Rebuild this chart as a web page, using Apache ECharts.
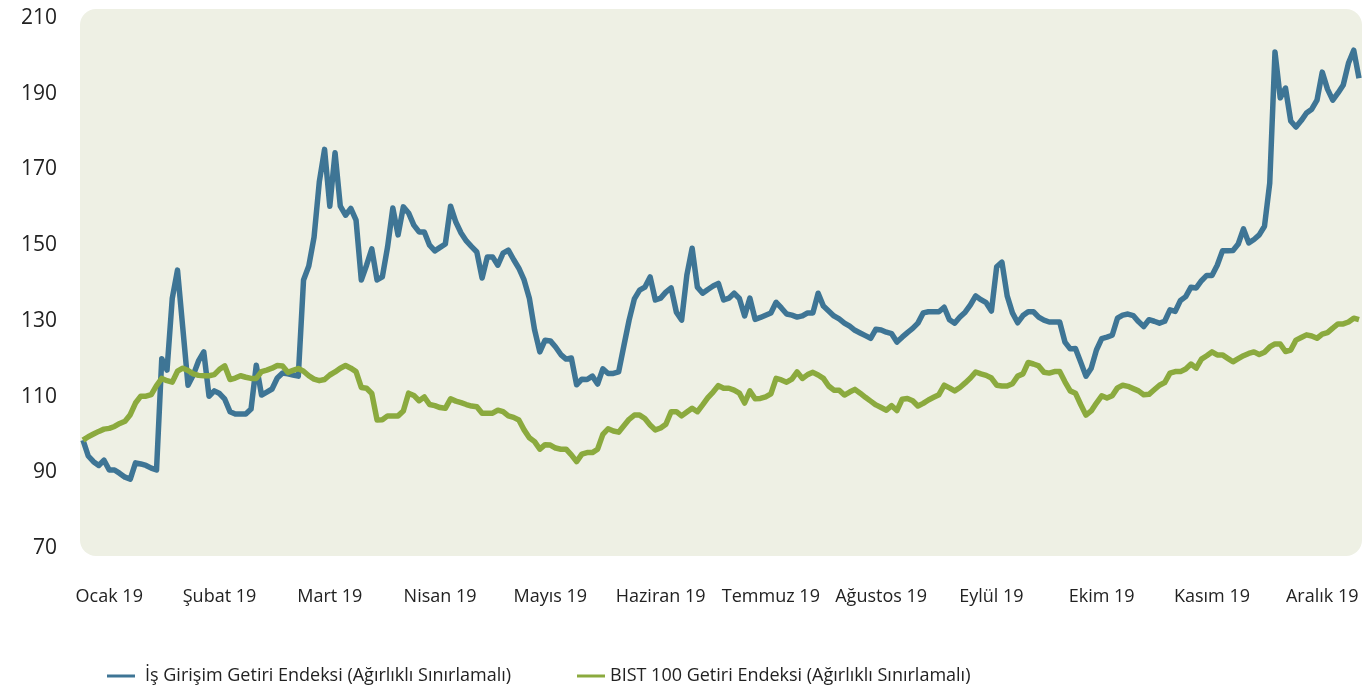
<!DOCTYPE html>
<html>
<head>
<meta charset="utf-8">
<script src="https://cdn.jsdelivr.net/npm/echarts@6/dist/echarts.min.js"></script>
<style>
  html, body { margin: 0; padding: 0; background: #fff; }
  #chart { width: 1362px; height: 689px; }
</style>
</head>
<body>
<div id="chart"></div>
<script>
  // ay etiketleri (her 21 islem gununde bir)
  var monthLabels = ['Ocak 19', 'Şubat 19', 'Mart 19', 'Nisan 19', 'Mayıs 19', 'Haziran 19',
    'Temmuz 19', 'Ağustos 19', 'Eylül 19', 'Ekim 19', 'Kasım 19', 'Aralık 19'];
  var yTicks = [70, 90, 110, 130, 150, 170, 190, 210];

  var isGirisim = [
    98.5, 94.3, 92.8, 91.8, 93.2, 90.6, 90.6, 89.7, 88.7, 88.2,
    92.5, 92.2, 91.8, 91.1, 90.6, 120.0, 117.0, 136.0, 143.4, 128.2,
    113.0, 115.7, 119.4, 121.8, 110.1, 111.5, 110.8, 109.3, 106.0, 105.4,
    105.4, 105.4, 106.7, 118.3, 110.4, 111.2, 112.0, 114.9, 116.2, 116.0,
    115.7, 115.4, 140.8, 144.5, 152.1, 166.7, 175.3, 160.3, 174.4, 160.3,
    157.9, 159.7, 156.6, 140.8, 144.7, 149.0, 140.8, 141.6, 149.5, 159.8,
    152.7, 160.1, 158.5, 155.3, 153.5, 153.5, 150.0, 148.5, 149.4, 150.3,
    160.3, 156.1, 153.2, 151.1, 149.6, 148.2, 141.3, 146.9, 146.9, 144.7,
    147.9, 148.7, 146.2, 143.9, 140.8, 136.0, 127.6, 121.8, 124.9, 124.7,
    123.1, 121.1, 119.9, 120.2, 113.1, 114.6, 114.5, 115.4, 113.3, 117.3,
    116.1, 116.1, 116.5, 123.4, 130.2, 135.8, 138.1, 138.9, 141.6, 135.5,
    136.0, 137.6, 138.7, 132.3, 130.2, 142.1, 149.2, 138.9, 137.3, 138.3,
    139.2, 139.9, 135.5, 136.0, 137.3, 135.9, 131.3, 136.0, 130.4, 130.9,
    131.5, 132.1, 134.9, 133.4, 131.8, 131.5, 131.0, 131.3, 132.1, 132.1,
    137.3, 133.9, 132.6, 131.3, 130.5, 129.4, 128.6, 127.5, 126.8, 126.1,
    125.4, 127.8, 127.6, 127.0, 126.6, 124.4, 125.7, 126.9, 128.0, 129.4,
    132.1, 132.4, 132.4, 132.4, 133.6, 130.3, 129.4, 131.0, 132.3, 134.2,
    136.6, 135.6, 134.8, 132.6, 144.3, 145.5, 136.6, 132.1, 129.5, 131.4,
    132.4, 132.4, 131.0, 130.2, 129.7, 129.7, 129.7, 124.4, 122.6, 122.7,
    119.1, 115.4, 117.5, 122.3, 125.3, 125.7, 126.2, 130.7, 131.5, 131.8,
    131.4, 129.8, 128.5, 130.3, 129.9, 129.4, 129.9, 132.9, 132.5, 135.4,
    136.4, 138.9, 138.7, 140.6, 142.0, 142.0, 144.7, 148.5, 148.5, 148.6,
    150.3, 154.3, 150.6, 151.5, 152.7, 155.0, 166.4, 201.0, 188.9, 191.5,
    182.8, 181.2, 182.9, 184.9, 185.9, 188.3, 195.7, 191.2, 188.3, 190.2,
    192.3, 198.1, 201.5, 194.1
  ];

  var bist100 = [
    98.5, 99.4, 100.1, 100.8, 101.4, 101.6, 102.1, 102.9, 103.5, 105.2,
    108.3, 110.1, 110.1, 110.5, 112.9, 114.8, 114.2, 113.8, 116.7, 117.5,
    116.9, 116.0, 115.6, 115.5, 115.5, 115.8, 117.2, 118.1, 114.5, 114.9,
    115.5, 115.1, 114.8, 114.8, 116.6, 117.0, 117.5, 118.2, 118.1, 116.4,
    116.9, 117.4, 116.7, 115.5, 114.6, 114.2, 114.5, 115.7, 116.5, 117.5,
    118.2, 117.5, 116.6, 112.4, 112.2, 110.8, 103.8, 103.9, 104.9, 104.9,
    104.9, 106.2, 110.9, 110.3, 108.9, 109.9, 107.9, 107.6, 107.1, 106.9,
    109.4, 108.8, 108.4, 107.9, 107.5, 107.3, 105.6, 105.6, 105.6, 106.4,
    106.0, 104.9, 104.5, 103.8, 101.2, 99.1, 98.1, 96.1, 97.3, 97.2,
    96.4, 96.1, 96.1, 94.6, 92.8, 94.8, 95.2, 95.2, 96.1, 100.0,
    101.5, 100.9, 100.6, 102.3, 104.0, 105.1, 105.1, 104.2, 102.5, 101.2,
    101.7, 102.7, 106.0, 106.0, 104.9, 105.9, 106.9, 106.0, 107.8, 109.7,
    111.2, 112.9, 112.2, 112.2, 111.7, 110.9, 108.3, 111.5, 109.4, 109.5,
    109.9, 110.7, 114.8, 114.4, 113.8, 114.6, 116.5, 114.8, 115.8, 116.4,
    115.7, 114.8, 112.8, 111.7, 111.7, 110.4, 111.2, 111.9, 110.9, 109.8,
    108.8, 107.8, 107.1, 106.4, 107.6, 106.3, 109.3, 109.5, 108.9, 107.5,
    108.2, 109.1, 109.8, 110.5, 113.0, 112.3, 111.5, 112.4, 113.6, 114.9,
    116.5, 116.0, 115.6, 114.9, 113.0, 112.8, 112.8, 113.4, 115.4, 116.0,
    119.0, 118.6, 118.1, 116.4, 116.2, 116.6, 116.6, 113.9, 111.5, 110.9,
    107.9, 105.1, 106.2, 108.3, 110.2, 109.6, 110.2, 112.3, 113.0, 112.7,
    112.1, 111.5, 110.5, 110.6, 111.8, 113.0, 113.7, 116.2, 116.6, 116.6,
    117.3, 118.6, 117.5, 119.9, 120.8, 121.8, 121.0, 121.0, 120.1, 119.2,
    120.0, 120.8, 121.4, 121.8, 121.1, 121.7, 123.1, 123.9, 123.9, 121.9,
    122.3, 124.9, 125.6, 126.3, 126.0, 125.4, 126.5, 126.9, 128.1, 129.2,
    129.2, 129.7, 130.7, 130.3
  ];

  var nameIs = 'İş Girişim Getiri Endeksi (Ağırlıklı Sınırlamalı)';
  var nameBist = 'BIST 100 Getiri Endeksi (Ağırlıklı Sınırlamalı)';

  // kategori ekseni: ilk etiket 5. gunde, sonra her 21 gunde bir
  var labelStart = 5, labelStep = 21;
  var categories = isGirisim.map(function (v, i) {
    var k = i - labelStart;
    return (k >= 0 && k % labelStep === 0) ? monthLabels[k / labelStep] || '' : '';
  });

  var font = 'Open Sans';
  var legendText = { fontFamily: font, fontSize: 18, color: '#222', padding: [0, 0, 0, 5] };
  var chart = echarts.init(document.getElementById('chart'));
  chart.setOption({
    animation: false,
    textStyle: { fontFamily: font, color: '#222' },
    graphic: [{
      type: 'rect', left: 80, top: 9, z: -10, silent: true,
      shape: { width: 1282, height: 547, r: 16 },
      style: { fill: '#EEF0E4' }
    }],
    grid: { left: 83, right: 2, top: 18, bottom: 141 },
    legend: [
      { data: [nameIs], left: 102, top: 662, icon: 'rect', itemWidth: 28, itemHeight: 3, textStyle: legendText },
      { data: [nameBist], left: 572, top: 662, icon: 'rect', itemWidth: 28, itemHeight: 3,
        textStyle: Object.assign({}, legendText, { padding: [0, 0, 0, 0] }) }
    ],
    xAxis: {
      type: 'category',
      data: categories,
      boundaryGap: false,
      axisLine: { show: false },
      axisTick: { show: false },
      axisLabel: { interval: 0, margin: 40, fontSize: 18, color: '#222', fontFamily: font }
    },
    yAxis: {
      type: 'value',
      min: 70,
      max: 210,
      splitLine: { show: false },
      axisLine: { show: false },
      axisTick: { show: false },
      axisLabel: { customValues: yTicks, margin: 26, fontSize: 21, color: '#222', fontFamily: font }
    },
    series: [
      {
        name: nameIs, type: 'line', data: isGirisim, symbol: 'none',
        lineStyle: { width: 5.5, color: '#3E7595', join: 'round' },
        itemStyle: { color: '#3E7595' }
      },
      {
        name: nameBist, type: 'line', data: bist100, symbol: 'none',
        lineStyle: { width: 5.5, color: '#8BAA3E', join: 'round' },
        itemStyle: { color: '#8BAA3E' }
      }
    ]
  });
</script>
</body>
</html>
